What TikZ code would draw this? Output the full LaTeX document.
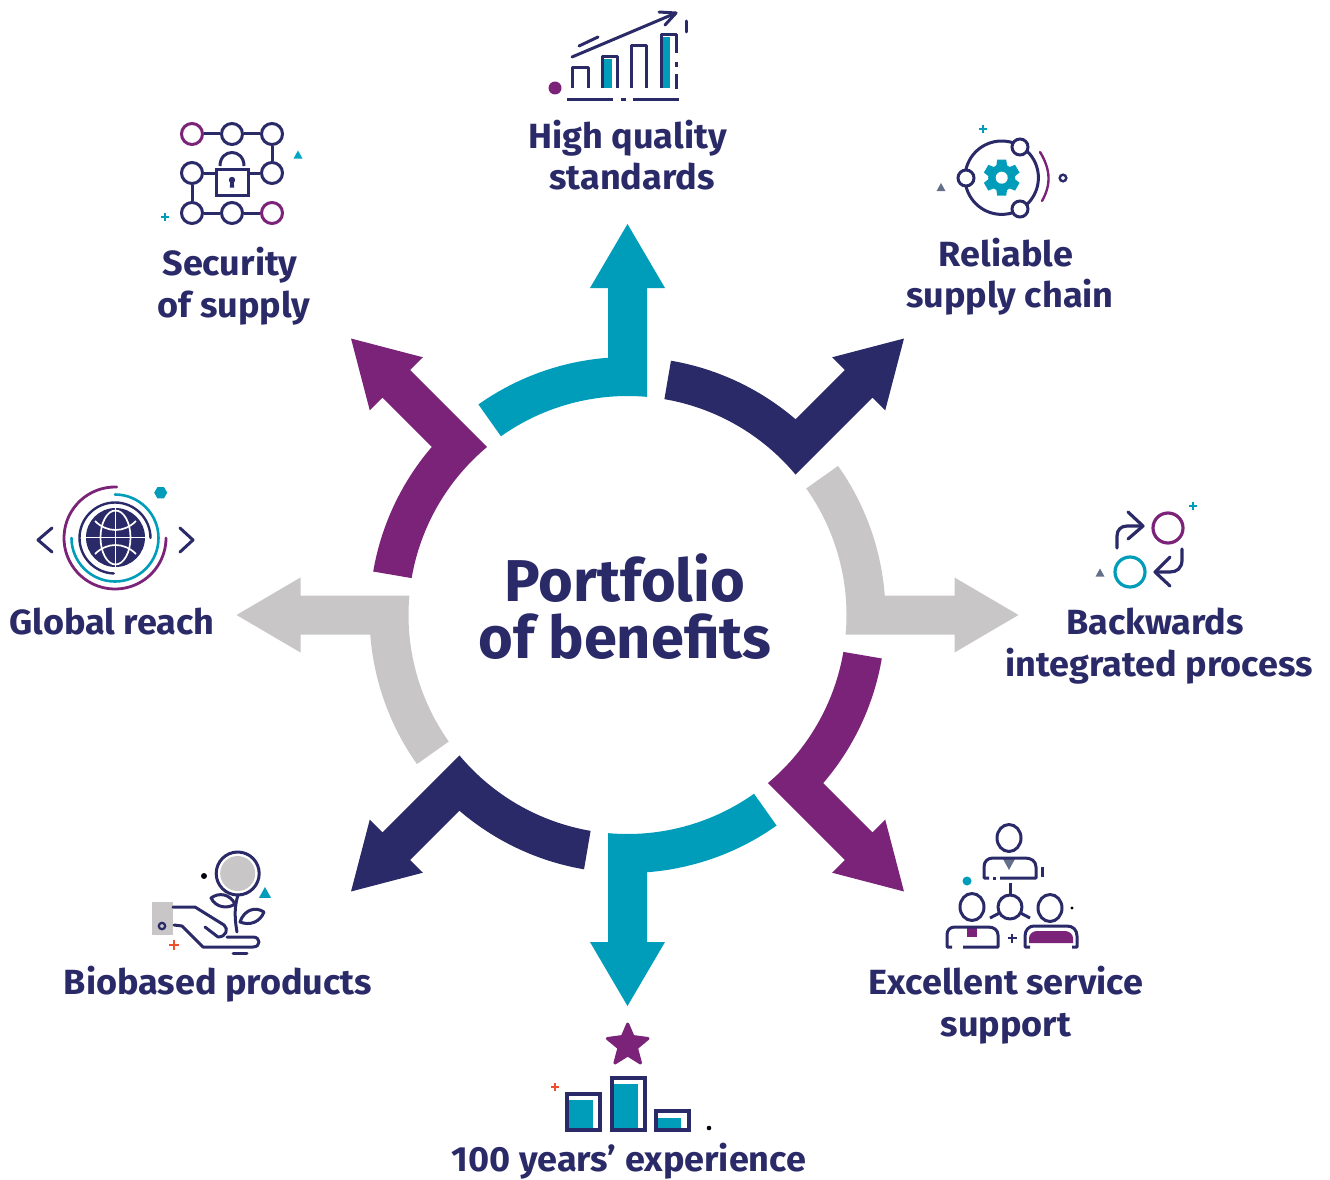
\documentclass[tikz,border=0pt]{standalone}
\usepackage{fontspec}
\setmainfont{Fira Sans}
\newfontfamily\labfont[FakeStretch=1.03]{Fira Sans Bold}
\newfontfamily\ttlfont[FakeStretch=1.01]{Fira Sans Bold}
\usetikzlibrary{shapes.geometric}
\definecolor{navy}{HTML}{2B2A68}
\definecolor{teal}{HTML}{009DBB}
\definecolor{purp}{HTML}{7B2378}
\definecolor{lgray}{HTML}{C8C6C6}
\definecolor{slate}{HTML}{64708A}
\definecolor{redp}{HTML}{F04E30}
\tikzset{
  lab/.style={anchor=base,text=navy,font=\labfont\fontsize{35}{35}\selectfont,inner sep=0pt},
  ttl/.style={anchor=base,text=navy,font=\ttlfont\fontsize{59}{59}\selectfont,inner sep=0pt},
  ln/.style={draw=navy,line width=3pt,line cap=butt,line join=round},
  rd/.style={draw=navy,line width=3pt,line cap=round,line join=round},
  ring/.style={circle,draw=navy,line width=3pt,minimum size=21pt,inner sep=0pt,fill=white},
  pring/.style={ring,draw=purp},
}
\newcommand{\benefitarrow}[2]{%
  \begin{scope}[shift={(627.5,615)},x=1pt,y=1pt,rotate=#1]
    \fill[#2] (0,391) -- (37.5,327) -- (19.5,327) -- (84.892:219)
      arc[start angle=84.892,end angle=125.3,radius=219pt]
      -- (125.3:258) arc[start angle=125.3,end angle=94.335,radius=258pt]
      -- (-19.5,327) -- (-37.5,327) -- cycle;
  \end{scope}}
\newcommand{\plusmark}[4]{\draw[#4,line width=2.4pt] (#1-#3,#2) -- (#1+#3,#2) (#1,#2-#3) -- (#1,#2+#3);}
\newcommand{\trimark}[4]{\fill[#4] (#1-#3,#2+#3*.8) -- (#1+#3,#2+#3*.8) -- (#1,#2-#3) -- cycle;}
\begin{document}
\begin{tikzpicture}[x=1pt,y=-1pt]
\useasboundingbox (0,0) rectangle (1330,1180);
% arrows
\benefitarrow{0}{teal}
\benefitarrow{-45}{navy}
\benefitarrow{-90}{lgray}
\benefitarrow{-135}{purp}
\benefitarrow{-180}{teal}
\benefitarrow{-225}{navy}
\benefitarrow{-270}{lgray}
\benefitarrow{-315}{purp}
% centre
\node[ttl] (t1) at (625,601) {Portfolio};
\node[ttl] (t2) at (625,658.5) {of benefits};
% labels
\node[lab] (a1) at (627.5,148.5) {High quality};
\node[lab] (a2) at (632,189.5) {standards};
\node[lab] (b1) at (1006,266.5) {Reliable};
\node[lab] (b2) at (1010,307.5) {supply chain};
\node[lab] (c1) at (1155,634.5) {Backwards};
\node[lab] (c2) at (1159,676) {integrated process};
\node[lab] (d1) at (1006,994.5) {Excellent service};
\node[lab] (d2) at (1006,1036) {support};
\node[lab] (e1) at (629,1171.5) {100 years’ experience};
\node[lab] (f1) at (218,994.5) {Biobased products};
\node[lab] (g1) at (112,634.5) {Global reach};
\node[lab] (h1) at (230,275.5) {Security};
\node[lab] (h2) at (234,317) {of supply};
% --- icon: high quality
\fill[teal] (603.5,59) rectangle (612,88);
\fill[teal] (662,37) rectangle (670,88);
\draw[rd] (572,57) -- (676,13);
\draw[rd] (659,12) -- (676,13) -- (665,25);
\draw[rd] (579,46) -- (598,37);
\draw[rd] (686,21) -- (686,32);
\draw[ln] (572,88) |- (588,68) -- (588,88);
\draw[ln] (602,88) |- (617,57) -- (617,88);
\draw[ln] (631,88) |- (646,46) -- (646,88);
\draw[ln] (661,88) |- (676,35) -- (676,53);
\draw[ln] (676,62) -- (676,67) (676,74) -- (676,89);
\fill[purp] (555,88) circle[radius=6.5pt];
\draw[ln] (567,100) -- (613,100) (621,100) -- (626,100) (633,100) -- (679,100);
% --- icon: security
\node[pring] (s1) at (192,134) {};
\node[ring] (s2) at (232,134) {};
\node[ring] (s3) at (272,134) {};
\node[ring] (s4) at (192,173) {};
\node[ring] (s5) at (272,173) {};
\node[ring] (s6) at (192,213) {};
\node[ring] (s7) at (232,213) {};
\node[pring] (s8) at (272,213) {};
\node[draw=navy,line width=3pt,minimum width=32pt,minimum height=26pt,inner sep=0pt,fill=white] (lock) at (232,182) {};
\draw[ln] (s1) -- (s2); \draw[ln] (s2) -- (s3); \draw[ln] (s3) -- (s5);
\draw[ln] (s4) -- (s4-|lock.west); \draw[ln] (s5-|lock.east) -- (s5); \draw[ln] (s4) -- (s6);
\draw[ln] (s6) -- (s7); \draw[ln] (s7) -- (s8);
\draw[ln] (220,166) .. controls (220,148) and (244,148) .. (244,166);
\fill[navy] (232,180) circle[radius=3.2pt];
\fill[navy] (230.3,181) -- (233.7,181) -- (234.2,187.5) -- (229.8,187.5) -- cycle;
\trimark{298}{155}{4.5}{teal!90!cyan}
\plusmark{165}{217}{4}{teal}
% --- icon: reliable
\draw[ln] (1001.7,177.7) circle[radius=36.7pt];
\node[ring,minimum size=16pt] (r1) at (1020,147) {};
\node[ring,minimum size=16pt] (r2) at (966,178) {};
\node[ring,minimum size=16pt] (r3) at (1020,209) {};
\foreach \a in {0,60,...,300}{
  \fill[teal,rotate around={\a:(1001.7,177.7)}] (1001.7-5.5,177.7-11) -- (1001.7-4.5,177.7-18) -- (1001.7+4.5,177.7-18) -- (1001.7+5.5,177.7-11) -- cycle;
}
\fill[teal] (1001.7,177.7) circle[radius=13.5pt];
\fill[white] (1001.7,177.7) circle[radius=6pt];
\draw[draw=purp,line width=2.4pt,line cap=round] (1040,152) .. controls (1051,170) and (1051,185) .. (1042,201);
\draw[draw=navy,line width=2.4pt] (1063,178) circle[radius=3.3pt];
\trimark{941}{187.5}{4.5}{slate}
\plusmark{983}{129}{4}{teal}
% --- icon: backwards
\draw[draw=purp,line width=3.2pt] (1168,528) circle[radius=15pt];
\draw[draw=teal,line width=3.2pt] (1130,572) circle[radius=15pt];
\draw[rd,line width=3.2pt] (1117,548) -- (1117,536) .. controls (1117,530) and (1121,526) .. (1127,526) -- (1142,526);
\draw[rd,line width=3.2pt] (1128,512) -- (1143,526) -- (1128,539);
\draw[rd,line width=3.2pt] (1182,549) -- (1182,560) .. controls (1182,568) and (1177,572) .. (1170,572) -- (1156,572);
\draw[rd,line width=3.2pt] (1170,557) -- (1155,572) -- (1170,586);
\plusmark{1193}{506}{4}{teal}
\trimark{1100}{573}{4.5}{slate}
% --- icon: global reach
\fill[navy] (115.5,537.5) circle[radius=29.5pt];
\begin{scope}
  \clip (115.5,537.5) circle[radius=29.5pt];
  \draw[white,line width=1.7pt] (115.5,508) -- (115.5,567);
  \draw[white,line width=1.7pt] (86,537.5) -- (145,537.5);
  \draw[white,line width=1.7pt] (115.5,537.5) ellipse[x radius=15pt,y radius=27pt];
  \draw[white,line width=1.7pt] (95,521) .. controls (107,533) and (124,533) .. (136,521);
  \draw[white,line width=1.7pt] (95,554) .. controls (107,542) and (124,542) .. (136,554);
\end{scope}
\begin{scope}[shift={(115,538)},x=1pt,y=1pt]
  \draw[navy,line width=2.4pt,line cap=round] (0:35.5) arc[start angle=0,end angle=268,radius=35.5pt];
  \draw[teal,line width=2.6pt,line cap=round] (90:43.5) arc[start angle=90,end angle=-180,radius=43.5pt];
  \draw[purp,line width=2.8pt,line cap=round] (88:51) arc[start angle=88,end angle=360,radius=51pt];
\end{scope}
\node[regular polygon,regular polygon sides=6,fill=teal,minimum size=13pt,inner sep=0pt] (hex) at (160.7,492.7) {};
\draw[rd] (52,528) -- (38,540) -- (52,552);
\draw[rd] (180,528) -- (193,540) -- (180,552);
% --- icon: excellent service
\draw[ln] (1009,838) ellipse[x radius=12pt,y radius=13.5pt];
\fill[slate] (1003,859) -- (1015,859) -- (1009,870) -- cycle;
\draw[ln] (1000,878) -- (1036,878) -- (1036,867) .. controls (1036,861) and (1031,858) .. (1025,858) -- (993,858) .. controls (988,858) and (984,861) .. (984,867) -- (984,878) -- (989,878);
\draw[ln] (993,878) -- (996,878);
\draw[ln] (1042,867) -- (1042,877);
\draw[ln] (1010,883) -- (1010,895);
\draw[ln] (1010,907) circle[radius=12pt];
\draw[ln] (999.5,913) -- (990,918);
\draw[ln] (1020.5,913) -- (1030,918);
\draw[ln] (972,907) ellipse[x radius=12pt,y radius=13.5pt];
\fill[purp] (967,928) rectangle (977,937);
\draw[ln] (963,947) -- (998,947) -- (998,935) .. controls (998,930) and (994,927) .. (988,927) -- (955,927) .. controls (950,927) and (947,930) .. (947,935) -- (947,947) -- (952,947);
\draw[ln] (1050,908) ellipse[x radius=12pt,y radius=13.5pt];
\fill[purp] (1029,943) -- (1029,938) .. controls (1029,934) and (1033,931) .. (1037,931) -- (1065,931) .. controls (1069,931) and (1073,934) .. (1073,938) -- (1073,943) -- cycle;
\draw[ln] (1030,947) -- (1025,947) -- (1025,936) .. controls (1025,930) and (1029,926) .. (1034,926) -- (1067,926) .. controls (1073,926) and (1077,930) .. (1077,936) -- (1077,947) -- (1072,947);
\draw[navy,line width=2.6pt] (1007.5,938) -- (1016.5,938) (1012,933.5) -- (1012,942.5);
\fill[teal] (967,881) circle[radius=4.5pt];
\fill[black] (1072,908) circle[radius=1.7pt];
% --- icon: biobased
\fill[lgray] (152,902) rectangle (173,935);
\draw[navy,line width=2.2pt] (162,926) circle[radius=3.2pt];
\fill[lgray] (237.7,873.5) circle[radius=17.5pt];
\draw[ln] (237.7,873.5) circle[radius=21.5pt];
\fill[black!85!navy] (204,876) circle[radius=3pt];
\trimark{265}{893}{6}{teal}
\plusmark{174}{945}{5}{redp}
\draw[rd] (173,907) -- (195,907) -- (224,925) .. controls (229,929) and (226,937) .. (218,937) -- (205,927);
\draw[rd] (174,925) -- (182,926) -- (203,947) -- (253,947) .. controls (261,947) and (261,937) .. (253,937) -- (227,937);
\draw[rd] (233,953) -- (247,953);
\draw[rd] (238,895) .. controls (235,905) and (234,915) .. (237,932);
\draw[rd] (211,898) .. controls (219,892) and (230,894) .. (235,904) .. controls (228,909) and (216,908) .. (211,898) -- cycle;
\draw[rd] (264,912) .. controls (255,906) and (244,910) .. (240,922) .. controls (250,926) and (260,922) .. (264,912) -- cycle;
% --- icon: 100 years
\fill[purp,draw=purp,line width=3pt,line join=round]
  (627.7,1024) -- (633,1036.5) -- (648,1038.5) -- (636.5,1048) -- (640.5,1063) -- (627.7,1055) -- (614.9,1063) -- (618.9,1048) -- (607.4,1038.5) -- (622.4,1036.5) -- cycle;
\fill[teal] (568,1100) rectangle (593,1128);
\fill[teal] (613,1084) rectangle (638,1128);
\fill[teal] (657,1118) rectangle (681,1128);
\draw[navy,line width=3.2pt] (567,1094) rectangle (600,1130);
\draw[navy,line width=3.2pt] (612,1078) rectangle (645,1130);
\draw[navy,line width=3.2pt] (656,1111) rectangle (689,1130);
\plusmark{555}{1087}{4}{redp}
\fill[black!85!navy] (709,1128) circle[radius=2.3pt];
\end{tikzpicture}
\end{document}
